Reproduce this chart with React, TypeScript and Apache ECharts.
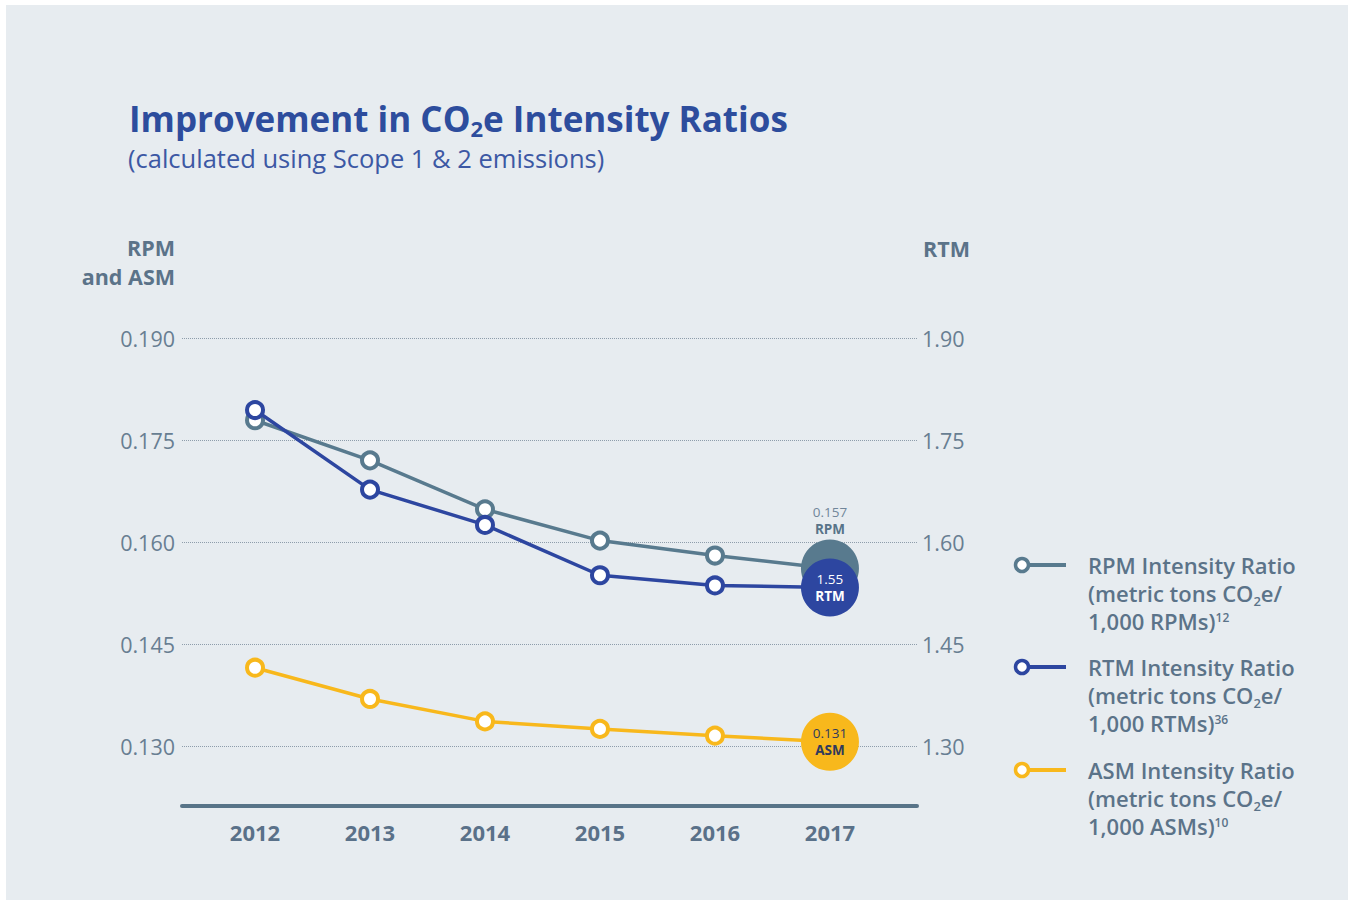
import { useEffect, useRef } from 'react';
import * as echarts from 'echarts';

const years = [2012, 2013, 2014, 2015, 2016, 2017];
const rpmValues = [0.1779, 0.172, 0.1648, 0.1602, 0.158, 0.1561];
const rtmValues = [1.794, 1.677, 1.625, 1.551, 1.536, 1.533];
const asmValues = [0.1415, 0.1369, 0.1336, 0.1325, 0.1315, 0.1306];
const seriesNames = ['RPM Intensity Ratio', 'RTM Intensity Ratio', 'ASM Intensity Ratio'];
const endValueLabels = ['0.157', '1.55', '0.131'];
const endShortNames = ['RPM', 'RTM', 'ASM'];
const legendUnits = ['RPMs', 'RTMs', 'ASMs'];
const legendNotes = ['12', '36', '10'];

const COLORS = ['#587a8e', '#2d46a0', '#f8b81c'];
const FONT = '"Open Sans", "Noto Sans", sans-serif';
const TEXT = '#5b7389';

function makeSeries(i: number, values: number[], yAxisIndex: number) {
  const color = COLORS[i];
  const data = years.map((y, k) => {
    if (k < years.length - 1) return [y, values[k]];
    const inside = i !== 0;
    const labelColorV = i === 0 ? '#71869a' : i === 1 ? '#ffffff' : '#2f3a5c';
    const labelColorN = i === 0 ? '#587489' : i === 1 ? '#ffffff' : '#2f3a5c';
    return {
      value: [y, values[k]],
      symbol: 'circle',
      symbolSize: 58,
      itemStyle: { color, borderWidth: 0 },
      label: {
        show: true,
        position: inside ? 'inside' : 'top',
        distance: 2,
        formatter: `{v|${endValueLabels[i]}}\n{n|${endShortNames[i]}}`,
        rich: {
          v: { fontFamily: FONT, fontSize: 13.5, color: labelColorV, lineHeight: 17, align: 'center' },
          n: { fontFamily: FONT, fontSize: 13.5, fontWeight: 'bold', color: labelColorN, lineHeight: 17, align: 'center' },
        },
      },
    };
  });
  return {
    type: 'line',
    name: seriesNames[i],
    xAxisIndex: 0,
    yAxisIndex,
    data,
    symbol: 'circle',
    symbolSize: 16,
    showAllSymbol: true,
    lineStyle: { color, width: 3.5 },
    itemStyle: { color: '#ffffff', borderColor: color, borderWidth: 4 },
    emphasis: { disabled: true },
    z: 3 + i,
  };
}

function legendItem(i: number, cy: number) {
  const color = COLORS[i];
  return [
    { type: 'line', shape: { x1: 1028, y1: cy, x2: 1066, y2: cy }, style: { stroke: color, lineWidth: 4 } },
    { type: 'circle', shape: { cx: 1022, cy, r: 6.5 }, style: { fill: '#ffffff', stroke: color, lineWidth: 3.5 } },
    {
      type: 'text',
      x: 1088,
      y: cy - 14,
      style: {
        text: `{t|${seriesNames[i]}}\n{t|(metric tons CO}{s|2}{t|e/}\n{t|1,000 ${legendUnits[i]})}{p|${legendNotes[i]}}`,
        verticalAlign: 'top',
        align: 'left',
        rich: {
          t: { fontFamily: FONT, fontSize: 22, fontWeight: 600, fill: TEXT, lineHeight: 28 },
          s: { fontFamily: FONT, fontSize: 13, fontWeight: 600, fill: TEXT, lineHeight: 14, verticalAlign: 'bottom' },
          p: { fontFamily: FONT, fontSize: 12, fontWeight: 600, fill: TEXT, lineHeight: 12, verticalAlign: 'middle', padding: [0, 0, 8, 0] },
        },
      },
    },
  ];
}

export default function App() {
  const ref = useRef<HTMLDivElement>(null);
  useEffect(() => {
    document.body.style.margin = '0';
    if (!ref.current) return;
    const chart = echarts.init(ref.current, null, { renderer: 'svg' });
    const option = {
      animation: false,
      backgroundColor: 'transparent',
      title: [
        {
          left: 124,
          top: 92,
          padding: 5,
          text: '{b|Improvement in CO}{sub|2}{b|e Intensity Ratios}',
          textStyle: {
            rich: {
              b: { fontFamily: FONT, fontSize: 35, fontWeight: 'bold', color: '#2d4d9d', lineHeight: 42 },
              sub: { fontFamily: FONT, fontSize: 22, fontWeight: 'bold', color: '#2d4d9d', lineHeight: 24, verticalAlign: 'bottom' },
            },
          },
        },
        {
          left: 123,
          top: 138,
          padding: 5,
          text: '(calculated using Scope 1 & 2 emissions)',
          textStyle: { fontFamily: FONT, fontSize: 25.5, fontWeight: 'normal', color: '#3c58a4', lineHeight: 30 },
        },
      ],
      grid: [
        { left: 182, right: 435, top: 338, bottom: 98.3 },
        { left: 182, right: 435, top: 338, bottom: 56 },
      ],
      xAxis: [
        {
          type: 'value',
          gridIndex: 0,
          min: 2011.365,
          max: 2017.757,
          axisLine: { show: true, lineStyle: { color: '#587488', width: 4 } },
          axisTick: { show: false },
          splitLine: { show: false },
          axisLabel: {
            margin: 15,
            fontFamily: FONT,
            fontSize: 22,
            fontWeight: 'bold',
            color: '#5a7189',
            formatter: (v: number) => (Number.isInteger(v) ? String(v) : ''),
          },
        },
        { type: 'value', gridIndex: 1, min: 0, max: 1, show: false },
      ],
      yAxis: [
        { type: 'value', gridIndex: 0, min: 0.1212, max: 0.19, show: false },
        { type: 'value', gridIndex: 0, min: 1.212, max: 1.9, show: false },
        {
          type: 'value',
          gridIndex: 1,
          position: 'left',
          min: 0.115,
          max: 0.19,
          interval: 0.015,
          name: 'RPM\nand ASM',
          nameLocation: 'end',
          nameGap: 47,
          nameTextStyle: {
            fontFamily: FONT,
            fontSize: 21.5,
            fontWeight: 'bold',
            color: '#5b7389',
            align: 'right',
            verticalAlign: 'bottom',
            lineHeight: 29,
            padding: [0, 7, 0, 0],
          },
          axisLine: { show: false },
          axisTick: { show: false },
          splitLine: { show: true, showMinLine: false, lineStyle: { color: '#8e9dab', width: 1, type: 'dotted' } },
          axisLabel: {
            margin: 7,
            fontFamily: FONT,
            fontSize: 21.5,
            color: '#687e92',
            showMinLabel: false,
            padding: [0, 0, 5, 0],
            formatter: (v: number) => (v < 0.12 ? '' : v.toFixed(3)),
          },
        },
        {
          type: 'value',
          gridIndex: 1,
          position: 'right',
          min: 1.15,
          max: 1.9,
          interval: 0.15,
          name: 'RTM',
          nameLocation: 'end',
          nameGap: 75,
          nameTextStyle: {
            fontFamily: FONT,
            fontSize: 21.5,
            fontWeight: 'bold',
            color: '#5b7389',
            align: 'left',
            verticalAlign: 'bottom',
            lineHeight: 29,
            padding: [0, 0, 0, 6],
          },
          axisLine: { show: false },
          axisTick: { show: false },
          splitLine: { show: false },
          axisLabel: {
            margin: 5,
            fontFamily: FONT,
            fontSize: 21.5,
            color: '#687e92',
            showMinLabel: false,
            padding: [0, 0, 5, 0],
            formatter: (v: number) => (v < 1.2 ? '' : v.toFixed(2)),
          },
        },
      ],
      series: [makeSeries(0, rpmValues, 0), makeSeries(1, rtmValues, 1), makeSeries(2, asmValues, 0)],
      graphic: [
        ...legendItem(0, 565),
        ...legendItem(1, 667),
        ...legendItem(2, 770),
      ],
    };
    chart.setOption(option as any);
    return () => chart.dispose();
  }, []);

  return (
    <div style={{ position: 'relative', width: 1352, height: 904, background: '#ffffff' }}>
      <div style={{ position: 'absolute', left: 6, top: 5, right: 4, bottom: 4, background: '#e7ecf0' }} />
      <div ref={ref} style={{ position: 'absolute', left: 0, top: 0, width: 1352, height: 904 }} />
    </div>
  );
}
